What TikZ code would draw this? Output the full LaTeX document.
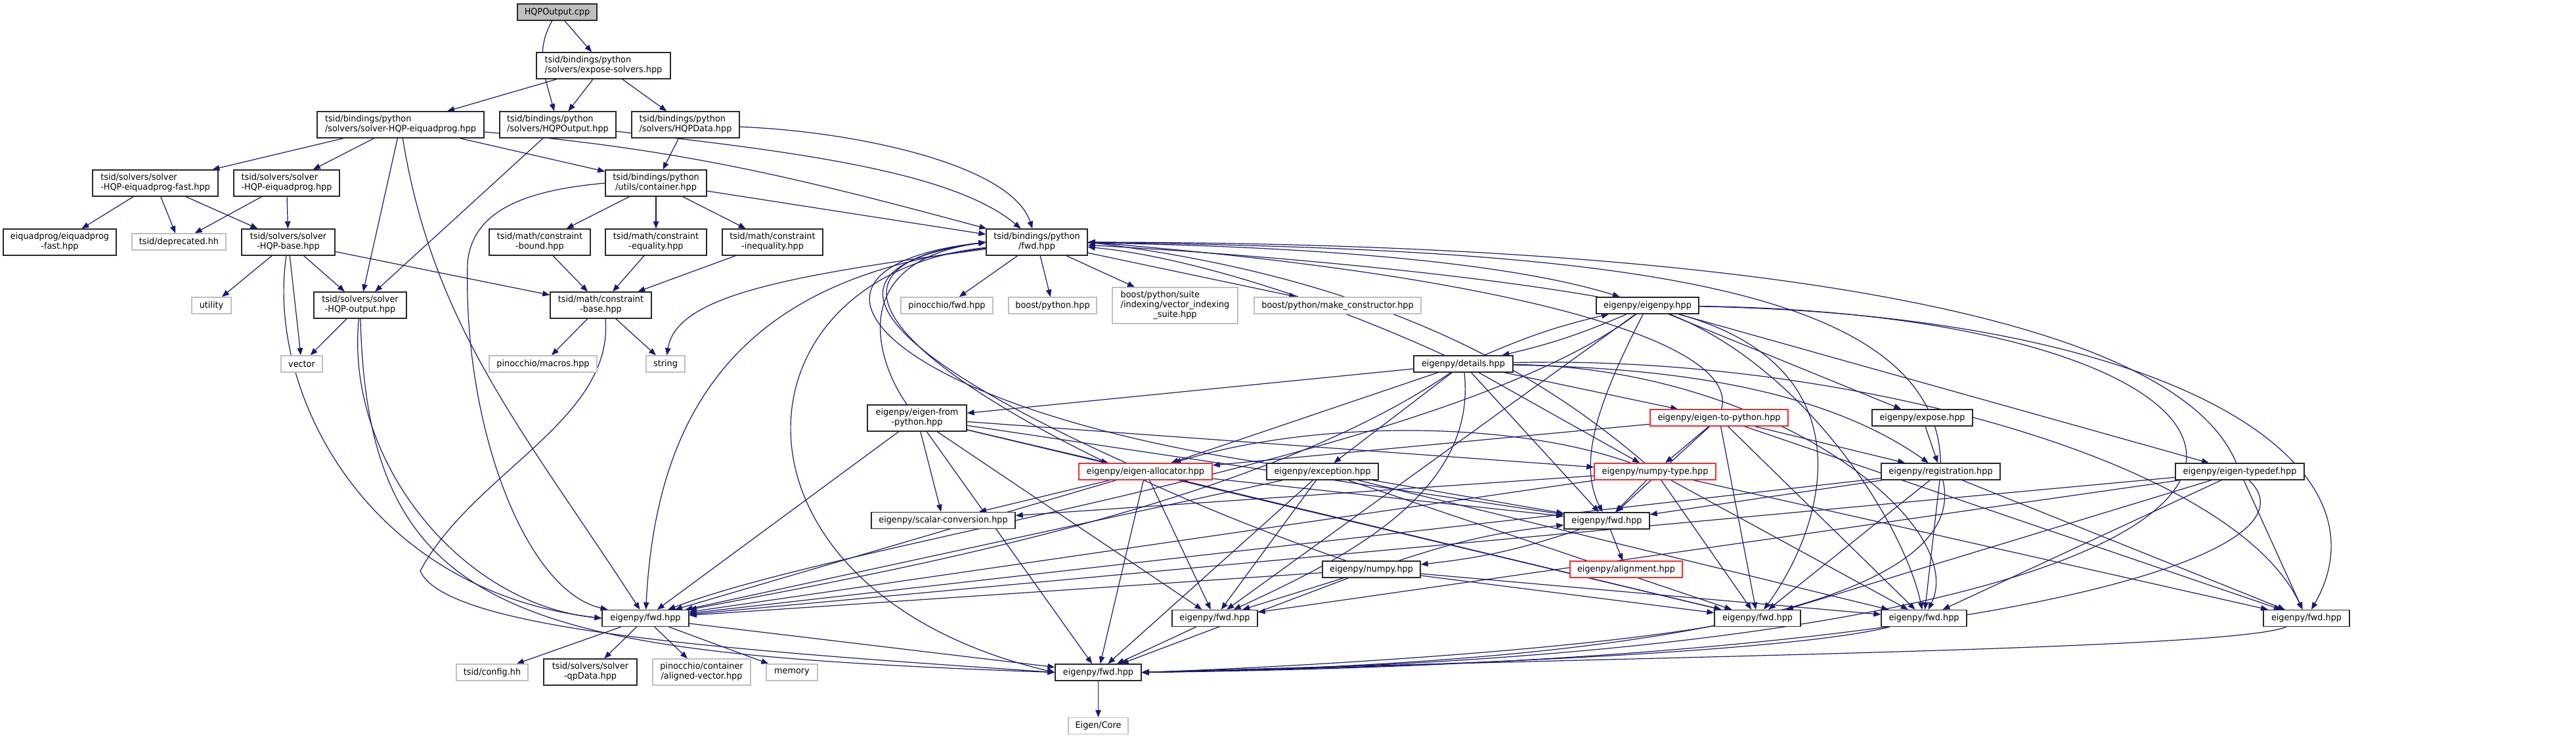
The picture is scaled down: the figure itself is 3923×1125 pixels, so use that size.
\documentclass[tikz,border=0pt]{standalone}
\usepackage{fontspec}
\setmainfont{DejaVu Sans}[FakeStretch=0.95]
\usetikzlibrary{arrows.meta}
\definecolor{edgec}{RGB}{25,25,112}
\definecolor{extc}{RGB}{191,191,191}
\definecolor{redc}{RGB}{255,40,40}
\definecolor{rootc}{RGB}{191,191,191}
\definecolor{bordc}{RGB}{40,40,40}
\pgfdeclarelayer{bgl}
\pgfdeclarelayer{edl}
\pgfsetlayers{bgl,edl,main}
\newcommand\twoline[2]{\begin{tabular}{@{}l@{}}#1\\\multicolumn{1}{@{}c@{}}{#2}\end{tabular}}
\tikzset{
  nd/.style={draw=bordc, line width=1.4pt, fill=white, inner sep=0pt,
    font=\fontsize{13.5}{14.7}\selectfont},
  ext/.style={nd, draw=extc},
  rnd/.style={nd, draw=redc},
  root/.style={nd, fill=rootc},
  sz/.style 2 args={minimum width=#1pt, minimum height=#2pt},
  ed/.style={draw=edgec, line width=1.2pt, -{Triangle[length=11pt,width=8.5pt]}},
}
\begin{document}
\begin{tikzpicture}[x=1pt,y=1pt]
\begin{pgfonlayer}{bgl}
\fill[white] (0,0) rectangle (3923,-1125);
\end{pgfonlayer}
\useasboundingbox (0,0) rectangle (3923,-1125);
% ---------- nodes ----------
\node[root,sz={121}{25}] (cpp) at (848.5,-18.5) {HQPOutput.cpp};
\node[nd,sz={204}{40}] (expose) at (919,-100) {\twoline{tsid/bindings/python}{/solvers/expose-solvers.hpp}};
\node[nd,sz={254}{40}] (bsolver) at (610,-190) {\twoline{tsid/bindings/python}{/solvers/solver-HQP-eiquadprog.hpp}};
\node[nd,sz={177}{40}] (hqpouth) at (849.5,-190) {\twoline{tsid/bindings/python}{/solvers/HQPOutput.hpp}};
\node[nd,sz={164}{40}] (hqpdata) at (1044,-190) {\twoline{tsid/bindings/python}{/solvers/HQPData.hpp}};
\node[nd,sz={191}{40}] (fast) at (236.5,-279) {\twoline{tsid/solvers/solver}{-HQP-eiquadprog-fast.hpp}};
\node[nd,sz={161}{40}] (eiq) at (436.5,-279) {\twoline{tsid/solvers/solver}{-HQP-eiquadprog.hpp}};
\node[nd,sz={154}{40}] (container) at (999,-279) {\twoline{tsid/bindings/python}{/utils/container.hpp}};
\node[nd,sz={154}{40}] (pyfwd) at (1579,-369) {\twoline{tsid/bindings/python}{/fwd.hpp}};
\node[nd,sz={172}{40}] (eqfast) at (91,-369) {\twoline{eiquadprog/eiquadprog}{-fast.hpp}};
\node[ext,sz={143}{25}] (deprec) at (272.5,-368.5) {tsid/deprecated.hh};
\node[nd,sz={142}{40}] (base) at (439,-369) {\twoline{tsid/solvers/solver}{-HQP-base.hpp}};
\node[nd,sz={154}{40}] (bound) at (822,-369) {\twoline{tsid/math/constraint}{-bound.hpp}};
\node[nd,sz={154}{40}] (equal) at (999,-369) {\twoline{tsid/math/constraint}{-equality.hpp}};
\node[nd,sz={153}{40}] (inequal) at (1176.5,-369) {\twoline{tsid/math/constraint}{-inequality.hpp}};
\node[ext,sz={60}{25}] (utility) at (322,-465.5) {utility};
\node[nd,sz={141}{40}] (hqpout) at (548.5,-465) {\twoline{tsid/solvers/solver}{-HQP-output.hpp}};
\node[nd,sz={154}{40}] (cbase) at (915,-465) {\twoline{tsid/math/constraint}{-base.hpp}};
\node[ext,sz={140}{25}] (pinfwd) at (1442,-465.5) {pinocchio/fwd.hpp};
\node[ext,sz={134}{25}] (boostpy) at (1603,-465.5) {boost/python.hpp};
\node[ext,sz={191}{55}] (suite) at (1789.5,-465.5) {\begin{tabular}{@{}l@{}}boost/python/suite\\/indexing/vector\_indexing\\\multicolumn{1}{@{}c@{}}{\_suite.hpp}\end{tabular}};
\node[ext,sz={254}{25}] (makecons) at (2037,-465.5) {boost/python/make\_constructor.hpp};
\node[nd,sz={156}{25}] (eigenpy) at (2509,-465.5) {eigenpy/eigenpy.hpp};
\node[ext,sz={63}{25}] (vector) at (459.5,-554.5) {vector};
\node[ext,sz={164}{25}] (macros) at (827,-554.5) {pinocchio/macros.hpp};
\node[ext,sz={59}{25}] (string) at (1013.5,-554.5) {string};
\node[nd,sz={151}{25}] (details) at (2228.5,-554.5) {eigenpy/details.hpp};
\node[nd,sz={151}{40}] (efp) at (1396.5,-637) {\twoline{eigenpy/eigen-from}{-python.hpp}};
\node[rnd,sz={210}{25}] (etp) at (2618,-636.5) {eigenpy/eigen-to-python.hpp};
\node[nd,sz={153}{25}] (exposeh) at (2927.5,-636.5) {eigenpy/expose.hpp};
\node[rnd,sz={203}{25}] (alloc) at (1744.5,-718.5) {eigenpy/eigen-allocator.hpp};
\node[nd,sz={170}{25}] (exception) at (2014,-718.5) {eigenpy/exception.hpp};
\node[rnd,sz={185}{25}] (npt) at (2520.5,-718.5) {eigenpy/numpy-type.hpp};
\node[nd,sz={181}{25}] (registr) at (2955.5,-718.5) {eigenpy/registration.hpp};
\node[nd,sz={196}{25}] (typedef) at (3411,-718.5) {eigenpy/eigen-typedef.hpp};
\node[nd,sz={219}{25}] (scalar) at (1436.5,-793) {eigenpy/scalar-conversion.hpp};
\node[nd,sz={130}{25}] (fwdM) at (2447,-793.5) {eigenpy/fwd.hpp};
\node[nd,sz={149}{25}] (numpy) at (2088.5,-867.5) {eigenpy/numpy.hpp};
\node[rnd,sz={171}{25}] (align) at (2476.5,-867.5) {eigenpy/alignment.hpp};
\node[nd,sz={132}{25}] (fwdA) at (983,-942) {eigenpy/fwd.hpp};
\node[nd,sz={130}{25}] (fwdB) at (1850,-942) {eigenpy/fwd.hpp};
\node[nd,sz={131}{25}] (fwdC) at (2676.5,-942) {eigenpy/fwd.hpp};
\node[nd,sz={130}{25}] (fwdD) at (2930,-942) {eigenpy/fwd.hpp};
\node[nd,sz={131}{25}] (fwdE) at (3512.5,-942) {eigenpy/fwd.hpp};
\node[ext,sz={109}{25}] (config) at (749.5,-1024.5) {tsid/config.hh};
\node[nd,sz={142}{40}] (qpdata) at (899,-1024) {\twoline{tsid/solvers/solver}{-qpData.hpp}};
\node[ext,sz={149}{40}] (alvec) at (1068.5,-1024) {\twoline{pinocchio/container}{/aligned-vector.hpp}};
\node[ext,sz={78}{25}] (memory) at (1206,-1024.5) {memory};
\node[nd,sz={131}{25}] (fwdF) at (1672.5,-1024.5) {eigenpy/fwd.hpp};
\node[ext,sz={91}{25}] (core) at (1672.5,-1106) {Eigen/Core};
\begin{pgfonlayer}{edl}
% ---------- straight edges ----------
\foreach \a/\b in {cpp/expose, expose/bsolver, expose/hqpouth, expose/hqpdata,
  bsolver/fast, bsolver/eiq, bsolver/hqpout, bsolver/container, hqpouth/hqpout,
  hqpdata/container, fast/eqfast, fast/deprec, fast/base, eiq/deprec, eiq/base,
  container/bound, container/equal, container/inequal, container/pyfwd,
  base/utility, base/vector, base/hqpout, base/cbase, hqpout/vector,
  bound/cbase, equal/cbase, inequal/cbase, cbase/macros, cbase/string,
  pyfwd/pinfwd, pyfwd/boostpy, pyfwd/suite, pyfwd/makecons,
  eigenpy/exposeh, eigenpy/typedef, eigenpy/fwdB,
  details/efp, details/etp, details/alloc, details/exception, details/npt, details/fwdM,
  efp/alloc, efp/scalar, efp/npt, efp/fwdA, efp/fwdB, efp/fwdM, efp/fwdC, efp/fwdF,
  etp/alloc, etp/npt, etp/registr, etp/fwdM, etp/fwdC, etp/fwdD, etp/fwdE,
  alloc/scalar, alloc/fwdA, alloc/fwdB, alloc/fwdC, alloc/fwdM, alloc/fwdF,
  exception/fwdM, exception/fwdA, exception/fwdB, exception/fwdC, exception/fwdF, exception/fwdD,
  npt/scalar, npt/fwdM, npt/fwdA, npt/fwdC, npt/fwdD, npt/fwdE,
  numpy/fwdA, numpy/fwdB, numpy/fwdC, numpy/fwdD, numpy/fwdF,
  fwdM/align, registr/fwdM, registr/fwdA, registr/fwdC, registr/fwdD, registr/fwdE,
  typedef/fwdA, typedef/fwdB, typedef/fwdC, typedef/fwdD, typedef/fwdE,
  exposeh/registr, fwdA/config, fwdA/qpdata, fwdA/alvec, fwdA/memory, fwdA/fwdF,
  fwdB/fwdF, fwdF/core}
  \draw[ed] (\a) -- (\b);
% ---------- curved edges ----------
\draw[ed] (cpp) to[out=-120,in=105] (hqpouth);
\draw[ed] (bsolver) .. controls (660,-500) and (800,-660) .. (fwdA);
\draw[ed] (bsolver) .. controls (1036,-227) and (1212,-270) .. (pyfwd);
\draw[ed] (hqpouth) .. controls (1200,-230) and (1450,-260) .. (pyfwd);
\draw[ed] (hqpdata) .. controls (1300,-200) and (1540,-250) .. (pyfwd);
\draw[ed] (container.west) .. controls (800,-290) and (720,-320) .. (712,-400) .. controls (705,-650) and (800,-900) .. (fwdA);
\draw[ed] (base) .. controls (405,-600) and (560,-900) .. (fwdA.west);
\draw[ed] (hqpout) .. controls (525,-700) and (700,-920) .. (fwdA.west);
\draw[ed] (hqpout) .. controls (560,-950) and (800,-995) .. (fwdF.west);
\draw[ed] ([xshift=7pt]cbase.south) .. controls (935,-640) and (720,-720) .. (640,-870) .. controls (680,-960) and (1100,-990) .. (fwdF.west);
\draw[ed] (pyfwd) .. controls (1200,-420) and (1030,-450) .. (string);
\draw[ed] (pyfwd) .. controls (1100,-420) and (1080,-900) .. (fwdF.west);
\draw[ed] (pyfwd) .. controls (1150,-420) and (1000,-600) .. (fwdA);
\draw[ed] (pyfwd) .. controls (2000,-375) and (2300,-400) .. (eigenpy);
\draw[ed] (eigenpy) .. controls (2250,-420) and (1950,-390) .. (pyfwd);
\draw[ed] (eigenpy) to[bend left=5] (details);
\draw[ed] (details) to[bend left=5] (eigenpy);
\draw[ed] (details) .. controls (2000,-450) and (1800,-390) .. (pyfwd);
\draw[ed] (efp) .. controls (1340,-560) and (1280,-400) .. (pyfwd.west);
\draw[ed] (alloc) .. controls (1480,-600) and (1150,-420) .. (pyfwd.west);
\draw[ed] (exception) .. controls (1350,-620) and (1150,-410) .. (pyfwd.west);
\draw[ed] (numpy) .. controls (1600,-700) and (1100,-420) .. (pyfwd.west);
\draw[ed] (npt) .. controls (2380,-600) and (2150,-430) .. (pyfwd.east);
\draw[ed] (registr) .. controls (2950,-420) and (2400,-380) .. (pyfwd.east);
\draw[ed] (typedef) .. controls (3300,-450) and (2500,-370) .. (pyfwd.east);
\draw[ed] (etp) .. controls (2650,-520) and (2300,-420) .. (pyfwd.east);
\draw[ed] (npt) .. controls (2300,-640) and (2000,-640) .. (alloc);
\draw[ed] (numpy) to[bend left=6] (fwdM);
\draw[ed] (fwdM) to[bend left=6] (numpy);
\draw[ed] (eigenpy) .. controls (2200,-700) and (1300,-820) .. (fwdA);
\draw[ed] (eigenpy) .. controls (2440,-600) and (2400,-700) .. (fwdM);
\draw[ed] (eigenpy) .. controls (2850,-560) and (2780,-800) .. (fwdC);
\draw[ed] (eigenpy) .. controls (2750,-560) and (2900,-800) .. (fwdD);
\draw[ed] (eigenpy) .. controls (3300,-480) and (3650,-700) .. (fwdE);
\draw[ed] (eigenpy) .. controls (3600,-480) and (3800,-990) .. (fwdF.east);
\draw[ed] (details) .. controls (1900,-780) and (1300,-880) .. (fwdA);
\draw[ed] (details) .. controls (2250,-750) and (2050,-850) .. (fwdB);
\draw[ed] (details) .. controls (2500,-560) and (2760,-580) .. (registr);
\draw[ed] (details) .. controls (2700,-560) and (3000,-800) .. (fwdD);
\draw[ed] (details) .. controls (2800,-540) and (3400,-700) .. (fwdE);
\draw[ed] (typedef) .. controls (3550,-850) and (3000,-1010) .. (fwdF.east);
\draw[ed] (registr) .. controls (3000,-900) and (2600,-1010) .. (fwdF.east);
\draw[ed] (fwdE) .. controls (3400,-990) and (2500,-1000) .. (fwdF.east);
\draw[ed] (fwdD) .. controls (2700,-1000) and (2000,-1020) .. (fwdF.east);
\draw[ed] (fwdC) .. controls (2400,-990) and (2000,-1015) .. (fwdF.east);
\end{pgfonlayer}
\end{tikzpicture}
\end{document}
